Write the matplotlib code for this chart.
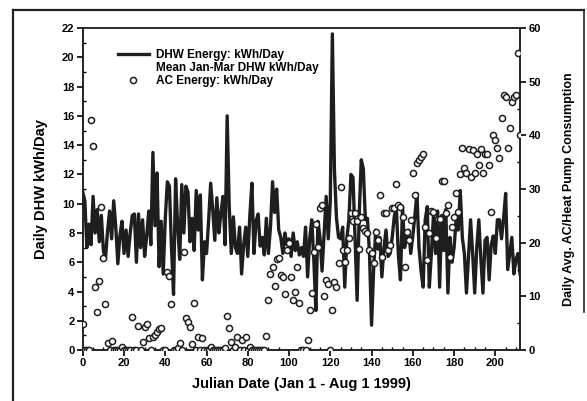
import numpy as np
import matplotlib
matplotlib.use("Agg")
import matplotlib.pyplot as plt
from matplotlib.lines import Line2D
from matplotlib.ticker import MultipleLocator

plt.rcParams['font.family'] = ['Liberation Sans', 'DejaVu Sans']
plt.rcParams['font.weight'] = 'bold'

# Daily DHW energy, kWh/day, Julian day 0..212
dhw_kwh = [
    10.8, 10.2, 7.0, 8.6, 7.2, 10.5, 8.0, 9.6, 7.4, 9.2,
    6.8, 6.2, 8.1, 9.5, 7.6, 10.2, 8.4, 5.9, 7.8, 8.8,
    6.6, 8.2, 6.4, 8.0, 9.2, 9.3, 6.0, 9.3, 7.0, 8.9,
    6.4, 7.8, 9.5, 7.2, 13.5, 8.5, 12.1, 5.7, 8.8, 5.2,
    9.0, 11.5, 11.2, 7.0, 3.8, 11.7, 8.5, 6.2, 11.3, 8.0,
    11.2, 10.8, 7.4, 9.0, 6.8, 10.9, 8.2, 10.6, 4.8, 7.4,
    6.6, 8.8, 11.4, 9.6, 7.5, 10.4, 8.0, 9.4, 10.5, 7.2,
    16.0, 9.8, 6.6, 9.1, 7.0, 6.6, 8.4, 5.2, 7.2, 8.4,
    6.4, 9.2, 11.4, 6.6, 8.8, 9.3, 7.1, 7.7, 6.5, 9.0,
    6.6, 8.4, 11.5, 9.4, 11.0, 8.2, 7.7, 6.6, 8.0, 7.2,
    7.6, 6.4, 8.0, 6.8, 7.4, 6.5, 7.0, 6.4, 8.4, 5.0,
    7.6, 8.9, 6.2, 2.7, 8.8, 7.7, 5.4, 8.0, 10.5, 7.6,
    10.2, 21.6, 12.3, 9.0, 7.7, 7.6, 8.4, 4.3, 7.6, 8.9,
    12.0, 11.8, 7.7, 3.4, 9.2, 13.0, 12.4, 8.9, 9.0, 6.6,
    1.7, 5.5, 8.2, 6.9, 7.7, 5.0, 7.0, 8.2, 6.4, 6.6,
    7.7, 9.1, 9.8, 6.5, 4.8, 9.8, 7.0, 7.7, 8.2, 6.6,
    7.8, 9.2, 10.7, 7.0, 5.4, 4.3, 8.9, 9.8, 4.3, 6.6,
    9.2, 6.6, 9.5, 4.3, 9.2, 6.8, 9.6, 3.9, 7.7, 6.0,
    7.0, 8.9, 8.2, 10.9, 7.7, 6.6, 3.9, 6.4, 8.9, 6.6,
    3.9, 7.0, 8.9, 6.2, 3.9, 7.5, 7.7, 4.8, 7.2, 7.8,
    6.6, 8.9, 8.9, 7.6, 9.0, 10.7, 5.5, 6.6, 7.7, 5.2,
    6.2, 6.6, 5.2,
]

# Daily average AC / heat pump consumption (right axis), day 0..212
ac_kwh = [
    4.8, 0, 0, 0, 42.8, 38.0, 11.7, 7.1, 12.9, 26.6,
    17.1, 8.6, 1.3, 0, 1.7, 0, 0, 0, 0, 0.5,
    0, 0, 0, 0, 6.2, 0, 0, 4.5, 0, 1.5,
    4.3, 4.8, 2.2, 0, 2.5, 2.8, 3.3, 4.0, 4.2, 0,
    0, 14.5, 13.8, 8.6, 0, 0, 0.4, 1.3, 0, 18.3,
    5.9, 5.2, 4.3, 1.1, 8.8, 0, 2.4, 0, 2.2, 0,
    0, 0, 0.5, 0, 0, 0, 0, 0, 0, 0.3,
    6.3, 4.1, 1.5, 0, 0.6, 2.4, 0, 1.9, 0, 2.4,
    0, 0.5, 0, 0, 0, 0, 0, 0, 0, 2.6,
    9.3, 14.2, 15.5, 11.9, 16.9, 17.1, 14.0, 13.6, 10.4, 18.6,
    19.9, 13.6, 9.3, 10.8, 15.5, 8.7, 0, 0, 0, 1.9,
    7.4, 10.6, 18.3, 23.5, 19.2, 26.4, 27.0, 10.0, 13.0, 12.4,
    0, 7.4, 12.7, 11.8, 16.2, 30.4, 18.6, 16.4, 18.6, 20.9,
    25.5, 24.0, 25.5, 24.0, 18.8, 24.8, 22.7, 22.2, 21.8, 18.6,
    18.0, 16.2, 22.0, 20.5, 28.9, 17.3, 25.5, 25.5, 18.6, 19.6,
    26.4, 26.4, 31.0, 27.0, 26.6, 24.8, 15.5, 22.0, 20.5, 24.2,
    33.0, 28.9, 34.8, 35.4, 36.0, 36.5, 22.9, 16.8, 21.8, 26.0,
    25.7, 20.9, 24.4, 24.4, 31.5, 31.5, 25.5, 27.0, 17.3, 22.9,
    24.8, 29.2, 25.7, 32.8, 37.6, 34.0, 33.0, 37.4, 32.2, 37.2,
    33.0, 36.6, 34.4, 37.4, 33.0, 36.5, 36.5, 34.4, 25.7, 40.0,
    39.1, 37.6, 35.8, 43.2, 47.5, 47.1, 37.6, 41.3, 46.2, 47.1,
    47.5, 55.3, 40.0,
]

days = np.arange(len(dhw_kwh))

fig = plt.figure(figsize=(5.87, 4.01), dpi=100)
ax = fig.add_axes([0.141, 0.127, 0.745, 0.803])
ax2 = ax.twinx()

# scanned page frame
fig.add_artist(Line2D([13 / 587, 13 / 587], [0, 1 - 10 / 401], color='#222', lw=1.6))
fig.add_artist(Line2D([13 / 587, 584 / 587], [1 - 10 / 401, 1 - 10 / 401], color='#222', lw=1.6))
fig.add_artist(Line2D([584 / 587, 584 / 587], [1 - 312 / 401, 1 - 10 / 401], color='#222', lw=1.2))

ax.plot(days, dhw_kwh, color='#1e1e1e', lw=2.4, zorder=2)
ax2.plot(days, ac_kwh, 'o', ms=4.4, mfc='white', mec='#1e1e1e', mew=1.1,
         linestyle='none', zorder=3)

ax.set_xlim(0, 212)
ax.set_ylim(0, 22)
ax2.set_ylim(0, 60)

ax.xaxis.set_major_locator(MultipleLocator(20))
ax.xaxis.set_minor_locator(MultipleLocator(5))
ax.yaxis.set_major_locator(MultipleLocator(2))
ax.yaxis.set_minor_locator(MultipleLocator(1))
ax2.yaxis.set_major_locator(MultipleLocator(10))
ax2.yaxis.set_minor_locator(MultipleLocator(5))

for a in (ax, ax2):
    a.tick_params(which='major', direction='out', length=4, width=1.2,
                  labelsize=8, pad=2)
    a.tick_params(which='minor', direction='in', length=2.5, width=1.0)
    for sp in a.spines.values():
        sp.set_linewidth(1.2)
        sp.set_color('#222')
    for lab in a.get_xticklabels() + a.get_yticklabels():
        lab.set_fontweight('bold')
ax.spines['top'].set_color('#555')

ax.set_xlabel('Julian Date (Jan 1 - Aug 1 1999)', fontsize=10.5, fontweight='bold', labelpad=6)
ax.set_ylabel('Daily DHW kWh/Day', fontsize=10.5, fontweight='bold', labelpad=10)
ax2.set_ylabel('Daily Avg. AC/Heat Pump Consumption', fontsize=9, fontweight='bold', labelpad=16)

handles = [
    Line2D([], [], color='#1e1e1e', lw=2.4),
    Line2D([], [], color='none'),
    Line2D([], [], marker='o', ms=4.4, mfc='white', mec='#1e1e1e', mew=1.1, linestyle='none'),
]
labels = ['DHW Energy: kWh/Day', 'Mean Jan-Mar DHW kWh/Day', 'AC Energy: kWh/Day']
leg = ax.legend(handles, labels, loc='upper left', bbox_to_anchor=(0.07, 0.95),
                frameon=False, fontsize=8.5, handlelength=2.6, handletextpad=0.6,
                labelspacing=0.1, borderaxespad=0)
for t in leg.get_texts():
    t.set_fontweight('bold')

fig.savefig('out.png', dpi=100, facecolor='white')
